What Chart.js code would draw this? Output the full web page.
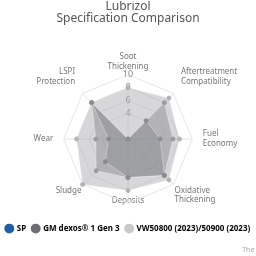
<!DOCTYPE html>
<html>
<head>
<meta charset="utf-8">
<script src="https://cdn.jsdelivr.net/npm/chart.js@4/dist/chart.umd.min.js"></script>
<style>
  html, body { margin: 0; padding: 0; background: #fff; overflow: hidden; }
  #wrap { position: absolute; left: -68px; top: 1px; width: 392px; height: 255px; }
</style>
</head>
<body>
<div id="wrap"><canvas id="chart"></canvas></div>
<script>
const categories = [
  ['Soot', 'Thickening'],
  ['Aftertreatment', 'Compatibility'],
  ['Fuel', 'Economy'],
  ['Oxidative', 'Thickening'],
  'Deposits',
  'Sludge',
  'Wear',
  ['LSPI', 'Protection']
]

const seriesNames = ['SP', 'GM dexos® 1 Gen 3', 'VW50800 (2023)/50900 (2023)']
const spValues = [0, 4, 5, 8, 6, 5, 3, 8]
const gmValues = [0, 8, 7, 8, 6, 7, 5, 8]
const vwValues = [8, 9, 8, 9, 8, 10, 8, 8]

const legendColors = ['#1f5fa8', '#6d6e73', '#c9c9cc']
const fillColors = ['rgba(120,122,130,0.35)', 'rgba(135,136,142,0.45)', 'rgba(175,175,179,0.5)']
const pointColors = ['#8a8c92', '#9a9ba0', '#b4b4b8']

const tickValues = [2, 4, 6, 8, 10]

// label gap per axis, the lower labels sit closer to the web
const labelPadding = [-2, 5, 5, -4, -13, -4, 5, 5]

function buildDataset (label, values, i) {
  return {
    label: label,
    data: values,
    backgroundColor: fillColors[i],
    borderColor: 'rgba(255,255,255,0.3)',
    borderWidth: 1,
    pointBackgroundColor: pointColors[i],
    pointBorderColor: pointColors[i],
    pointRadius: 2
  }
}

new Chart(document.getElementById('chart').getContext('2d'), {
  type: 'radar',
  data: {
    labels: categories,
    datasets: [
      buildDataset(seriesNames[0], spValues, 0),
      buildDataset(seriesNames[1], gmValues, 1),
      buildDataset(seriesNames[2], vwValues, 2)
    ]
  },
  options: {
    responsive: true,
    maintainAspectRatio: false,
    animation: false,
    layout: { padding: 0 },
    scales: {
      r: {
        min: 0,
        max: 10,
        afterBuildTicks: (scale) => { scale.ticks = tickValues.map((v) => ({ value: v })) },
        ticks: {
          color: '#888',
          font: { family: 'Noto Sans', size: 9 },
          backdropColor: 'rgba(255,255,255,0.6)',
          backdropPadding: 1
        },
        grid: { color: '#e6e6e8' },
        angleLines: { color: '#e6e6e8' },
        pointLabels: {
          color: '#777',
          font: { family: 'Noto Sans', size: 8 },
          padding: (ctx) => labelPadding[ctx.index]
        }
      }
    },
    plugins: {
      title: {
        display: true,
        text: ['Lubrizol', 'Specification Comparison'],
        color: '#555',
        font: { family: 'Noto Sans', size: 12, weight: 'normal', lineHeight: 1.0 },
        padding: { top: 0, bottom: 19 }
      },
      subtitle: {
        display: true,
        position: 'bottom',
        align: 'end',
        text: 'The Lubrizol Corporation',
        color: '#aaa',
        font: { family: 'Noto Sans', size: 7 },
        padding: { top: 3, bottom: 2 }
      },
      legend: {
        position: 'bottom',
        labels: {
          usePointStyle: true,
          pointStyle: 'circle',
          boxWidth: 7,
          boxHeight: 7,
          padding: 6,
          color: '#444',
          font: { family: 'Noto Sans', size: 8, weight: 'bold' },
          generateLabels: (chart) => chart.data.datasets.map((ds, i) => ({
            text: ds.label,
            fillStyle: legendColors[i],
            strokeStyle: legendColors[i],
            lineWidth: 0,
            pointStyle: 'circle',
            hidden: !chart.isDatasetVisible(i),
            datasetIndex: i
          }))
        }
      },
      tooltip: { enabled: false }
    }
  }
})
</script>
</body>
</html>
